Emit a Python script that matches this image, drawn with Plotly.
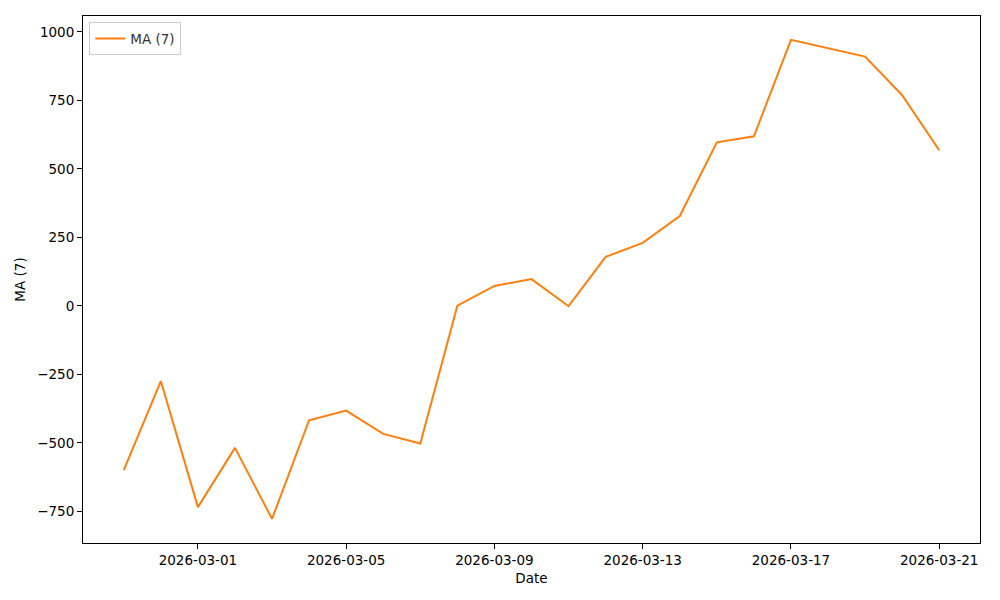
import plotly.graph_objects as go
import pandas as pd

dates = pd.date_range("2026-02-27", "2026-03-21", freq="D").strftime("%Y-%m-%d").tolist()
ma7 = [-599, -274, -734, -518, -777, -417, -382, -467, -502, 1, 73, 98, -1,
       179, 230, 328, 597, 619, 971, 940, 910, 769, 568]
x_ticks = ["2026-03-01", "2026-03-05", "2026-03-09", "2026-03-13", "2026-03-17", "2026-03-21"]
y_ticks = [-750, -500, -250, 0, 250, 500, 750, 1000]

fig = go.Figure()
fig.add_trace(go.Scatter(x=dates, y=ma7, mode="lines", name="MA (7)",
                         line=dict(color="#ff7f0e", width=2)))

font = "DejaVu Sans"
fig.update_layout(
    width=1000, height=600,
    margin=dict(l=75, r=28, t=8, b=65),
    paper_bgcolor="white", plot_bgcolor="white",
    font=dict(family=font, size=13.5, color="black"),
    showlegend=True,
    legend=dict(x=0.007, y=0.988, xanchor="left", yanchor="top",
                bordercolor="#cccccc", borderwidth=1, bgcolor="rgba(255,255,255,0.8)",
                font=dict(size=13.5, color="#333333"), tracegroupgap=0),
    xaxis=dict(
        title=dict(text="Date", standoff=6, font=dict(size=13.5)),
        range=["2026-02-25 21:36", "2026-03-22 02:24"],
        tickvals=x_ticks, ticktext=x_ticks, tickfont=dict(size=13.5),
        showgrid=False, zeroline=False, automargin=False,
        showline=True, linecolor="black", linewidth=1, mirror=True,
        ticks="outside", ticklen=5, tickcolor="black",
    ),
    yaxis=dict(
        title=dict(text="MA (7)", standoff=8, font=dict(size=13.5)),
        range=[-865, 1058],
        tickvals=y_ticks, tickfont=dict(size=13.5),
        showgrid=False, zeroline=False, automargin=False,
        showline=True, linecolor="black", linewidth=1, mirror=True,
        ticks="outside", ticklen=5, tickcolor="black",
    ),
)

fig.write_html("out.html")
